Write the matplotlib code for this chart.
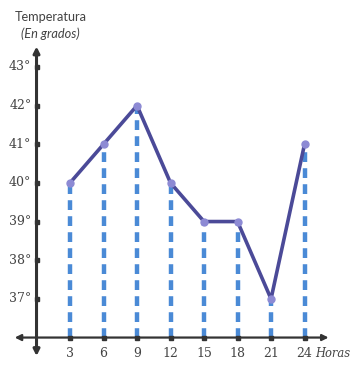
import matplotlib
matplotlib.use("Agg")
import matplotlib.pyplot as plt

hours = [3, 6, 9, 12, 15, 18, 21, 24]
temps = [40, 41, 42, 40, 39, 39, 37, 41]
y_ticks = [37, 38, 39, 40, 41, 42, 43]
x_labels = ["3", "6", "9", "12", "15", "18", "21", "24"]

fig = plt.figure(figsize=(3.53, 3.65), dpi=100)
ax = fig.add_axes([0, 0, 1, 1])
ax.set_xlim(-3.27, 28.34)
ax.set_ylim(35.29, 44.73)
ax.axis("off")

base = 36.0
axis_col = "#333333"
# axes with arrows
ax.annotate("", xy=(26.4, base), xytext=(-2.2, base),
            arrowprops=dict(arrowstyle="<|-|>", color=axis_col, lw=1.6, mutation_scale=9))
ax.annotate("", xy=(0, 43.6), xytext=(0, 35.45),
            arrowprops=dict(arrowstyle="<|-|>", color=axis_col, lw=2.2, mutation_scale=9))

# dashed verticals
for h, t in zip(hours, temps):
    ax.plot([h, h], [base, t], color="#4a8ad6", lw=3.2, ls=(0, (2.2, 1.4)), zorder=2, solid_capstyle="butt")

# line
ax.plot(hours, temps, color="#4b4a98", lw=2.6, zorder=3)
ax.plot(hours, temps, "o", color="#8d8ad4", ms=5, zorder=4)

# tick marks
ax.plot([0] * len(y_ticks), y_ticks, "s", color=axis_col, ms=3.5, zorder=5)
ax.plot(hours, [base] * len(hours), "s", color=axis_col, ms=3, zorder=5)

serif = ["DejaVu Serif"]
for y in y_ticks:
    ax.text(-0.45, y, f"{y}°", ha="right", va="center", fontsize=9, color="#444444", family=serif)
for h, lab in zip(hours, x_labels):
    ax.text(h, base - 0.4, lab, ha="center", va="center", fontsize=9, color="#444444", family=serif)
ax.text(24.95, base - 0.4, "Horas", ha="left", va="center", fontsize=8.3, color="#444444",
        style="italic", family=serif)

ax.text(1.3, 44.28, "Temperatura", ha="center", va="center", fontsize=9.2, color="#444444", family=["Lato"])
ax.text(1.2, 43.85, "(En grados)", ha="center", va="center", fontsize=9.2, color="#444444",
        style="italic", family=["Lato"])

fig.savefig("out.png", dpi=100)
